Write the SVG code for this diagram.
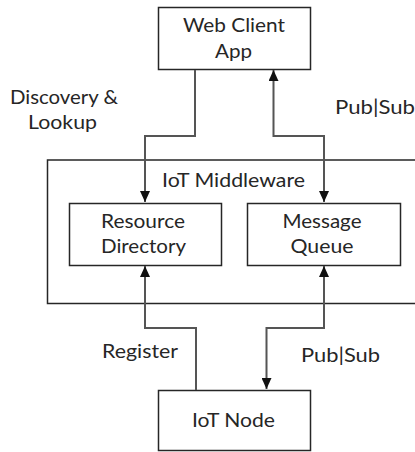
<svg xmlns="http://www.w3.org/2000/svg" width="415" height="452" viewBox="0 0 415 452">
  <style>
    .box { fill: #ffffff; stroke: #262626; stroke-width: 1.5; }
    .frame { fill: none; stroke: #262626; stroke-width: 1.5; }
    .wire { fill: none; stroke: #555555; stroke-width: 2; }
    text { font-family: Lato, "Open Sans", "Liberation Sans", sans-serif; font-size: 20px; fill: #262626; }
    .c { text-anchor: middle; }
  </style>
  <defs>
    <marker id="arrow" viewBox="0 0 11 10" refX="11" refY="5" markerWidth="11" markerHeight="10" markerUnits="userSpaceOnUse" orient="auto-start-reverse">
      <path d="M0,0 L11,5 L0,10 z" fill="#111111"/>
    </marker>
  </defs>
  <rect width="415" height="452" fill="#ffffff"/>

  <!-- middleware container, open past the right edge -->
  <g id="middleware">
    <path class="frame" d="M420,160 H47.5 V303.5 H420"/>
    <text class="c" x="233.5" y="187" textLength="143" lengthAdjust="spacingAndGlyphs">IoT Middleware</text>
  </g>

  <g id="web-client">
    <rect class="box" x="158.5" y="7.5" width="152" height="62"/>
    <text class="c" x="234" y="32" textLength="102" lengthAdjust="spacingAndGlyphs">Web Client</text>
    <text class="c" x="233.5" y="58" textLength="37" lengthAdjust="spacingAndGlyphs">App</text>
  </g>

  <g id="resource-directory">
    <rect class="box" x="69.5" y="203.5" width="152" height="62"/>
    <text class="c" x="143" y="228" textLength="84" lengthAdjust="spacingAndGlyphs">Resource</text>
    <text class="c" x="143.5" y="253" textLength="85" lengthAdjust="spacingAndGlyphs">Directory</text>
  </g>

  <g id="message-queue">
    <rect class="box" x="247.5" y="203.5" width="153" height="62"/>
    <text class="c" x="322" y="228" textLength="79" lengthAdjust="spacingAndGlyphs">Message</text>
    <text class="c" x="322" y="253" textLength="63" lengthAdjust="spacingAndGlyphs">Queue</text>
  </g>

  <g id="iot-node">
    <rect class="box" x="158.5" y="390.5" width="152" height="60"/>
    <text class="c" x="233.5" y="427" textLength="83" lengthAdjust="spacingAndGlyphs">IoT Node</text>
  </g>

  <g id="connectors">
    <!-- discovery & lookup -->
    <path class="wire" d="M195,70 V136 H145 V202" marker-end="url(#arrow)"/>
    <!-- pub|sub between web client and queue -->
    <path class="wire" d="M273.5,70 V136 H324 V202" marker-start="url(#arrow)" marker-end="url(#arrow)"/>
    <!-- register -->
    <path class="wire" d="M196,390 V328 H145 V266" marker-end="url(#arrow)"/>
    <!-- pub|sub between node and queue -->
    <path class="wire" d="M266.5,389 V328 H324 V266" marker-start="url(#arrow)" marker-end="url(#arrow)"/>
  </g>

  <g id="labels">
    <text x="10" y="104" textLength="108" lengthAdjust="spacingAndGlyphs">Discovery &amp;</text>
    <text x="28" y="129" textLength="69" lengthAdjust="spacingAndGlyphs">Lookup</text>
    <text x="335" y="114" textLength="80" lengthAdjust="spacingAndGlyphs">Pub|Sub</text>
    <text x="102" y="358" textLength="76" lengthAdjust="spacingAndGlyphs">Register</text>
    <text x="301" y="362" textLength="79" lengthAdjust="spacingAndGlyphs">Pub|Sub</text>
  </g>
</svg>
